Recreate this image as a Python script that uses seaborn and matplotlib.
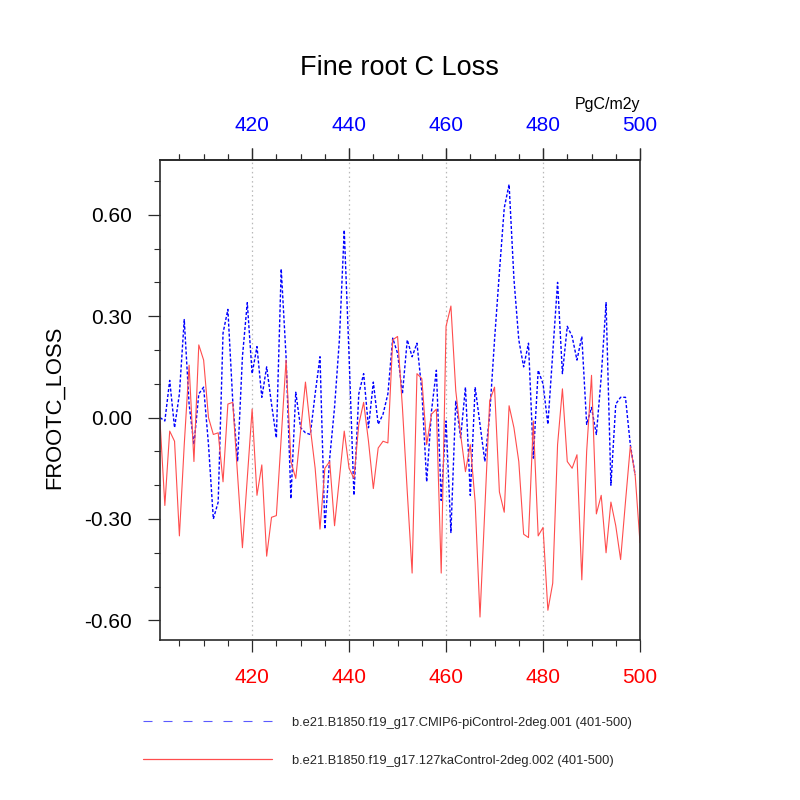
import numpy as np
import pandas as pd
import matplotlib
matplotlib.use("Agg")
import matplotlib.pyplot as plt
import seaborn as sns
from matplotlib.lines import Line2D
from matplotlib.ticker import FixedLocator, MultipleLocator, FormatStrFormatter

# ---------------- data ----------------
years = list(range(401, 501))

# b.e21.B1850.f19_g17.CMIP6-piControl-2deg.001 (values for 401-499)
pi_control = [
    0.00, -0.01, 0.11, -0.03, 0.07, 0.29, 0.04, -0.08, 0.07, 0.09,
    -0.08, -0.30, -0.25, 0.25, 0.32, 0.05, -0.13, 0.18, 0.34, 0.13,
    0.21, 0.06, 0.15, 0.04, -0.06, 0.44, 0.18, -0.24, 0.075, -0.03,
    -0.045, -0.05, 0.07, 0.18, -0.33, -0.12, 0.03, 0.23, 0.555, 0.18,
    -0.23, 0.07, 0.13, -0.03, 0.105, -0.02, 0.01, 0.07, 0.235, 0.19,
    0.07, 0.23, 0.18, 0.22, 0.08, -0.19, 0.02, 0.14, -0.245, -0.01,
    -0.34, 0.05, -0.06, 0.09, -0.23, 0.09, -0.02, -0.13, 0.01, 0.23,
    0.43, 0.62, 0.69, 0.41, 0.23, 0.15, 0.22, -0.12, 0.14, 0.10,
    -0.02, 0.19, 0.40, 0.13, 0.27, 0.24, 0.17, 0.24, -0.02, 0.03,
    -0.05, 0.12, 0.34, -0.20, 0.04, 0.06, 0.06, -0.08, -0.17,
]

# b.e21.B1850.f19_g17.127kaControl-2deg.002 (values for 401-500)
ka127_control = [
    -0.01, -0.26, -0.04, -0.07, -0.35, -0.08, 0.155, -0.13, 0.215, 0.17,
    0.00, -0.05, -0.045, -0.19, 0.04, 0.045, -0.17, -0.385, -0.18, 0.025,
    -0.23, -0.14, -0.41, -0.295, -0.29, -0.06, 0.17, -0.13, -0.18, -0.04,
    0.105, -0.03, -0.15, -0.33, -0.15, -0.13, -0.32, -0.18, -0.04, -0.15,
    -0.18, -0.02, 0.045, -0.07, -0.21, -0.09, -0.07, -0.075, 0.23, 0.24,
    0.03, -0.22, -0.46, 0.13, 0.115, -0.08, 0.01, 0.025, -0.46, 0.27,
    0.33, 0.08, -0.05, -0.16, -0.08, -0.25, -0.59, -0.27, 0.05, 0.09,
    -0.22, -0.28, 0.035, -0.03, -0.13, -0.345, -0.355, -0.01, -0.35, -0.325,
    -0.57, -0.49, -0.08, 0.085, -0.13, -0.15, -0.11, -0.48, -0.10, 0.125,
    -0.285, -0.23, -0.40, -0.25, -0.32, -0.42, -0.25, -0.085, -0.17, -0.37,
]

labels = [
    "b.e21.B1850.f19_g17.CMIP6-piControl-2deg.001 (401-500)",
    "b.e21.B1850.f19_g17.127kaControl-2deg.002 (401-500)",
]
x_major = [420, 440, 460, 480, 500]
y_major = [-0.6, -0.3, 0.0, 0.3, 0.6]

# ---------------- style ----------------
sns.set_theme(style="white")
plt.rcParams['font.family'] = ['Liberation Sans', 'DejaVu Sans']
plt.rcParams['axes.unicode_minus'] = False

BLUE = "#0000ff"
RED = "#ff4d4d"
FRAME = "#2a2a2a"

fig = plt.figure(figsize=(8, 8), dpi=100)
ax = fig.add_axes([0.2, 0.2, 0.6, 0.6])

df_pi = pd.DataFrame({"year": years[:len(pi_control)], "value": pi_control})
df_ka = pd.DataFrame({"year": years, "value": ka127_control})

sns.lineplot(data=df_pi, x="year", y="value", color=BLUE, lw=1.0, ax=ax)
ax.lines[-1].set_dashes([2.2, 1.4])
sns.lineplot(data=df_ka, x="year", y="value", color=RED, lw=0.8, ax=ax)

ax.set_xlim(401, 500)
ax.set_ylim(-0.658, 0.762)

# spines
for s in ax.spines.values():
    s.set_visible(True)
    s.set_color(FRAME)
    s.set_linewidth(1.2)

# x ticks (bottom, red labels)
ax.set_xticks(x_major)
ax.xaxis.set_minor_locator(FixedLocator(list(range(405, 500, 5))))
ax.tick_params(axis='x', which='both', bottom=True, top=True, labelbottom=True,
               labeltop=False, direction='out', colors=FRAME, labelcolor='red',
               labelsize=15)
ax.tick_params(axis='x', which='major', length=8.6, width=0.9, pad=11.5)
ax.tick_params(axis='x', which='minor', length=4.3, width=0.8)

# top axis (blue labels)
sec = ax.secondary_xaxis('top')
sec.set_xticks(x_major)
sec.xaxis.set_minor_locator(FixedLocator(list(range(405, 500, 5))))
sec.tick_params(axis='x', which='both', direction='out', colors=FRAME,
                labelcolor='blue', labelsize=15)
sec.tick_params(axis='x', which='major', length=8.6, width=0.9, pad=9.3)
sec.tick_params(axis='x', which='minor', length=4.3, width=0.8)
sec.spines['top'].set_color(FRAME)
sec.spines['top'].set_linewidth(1.2)

# y ticks
ax.set_yticks(y_major)
ax.yaxis.set_major_formatter(FormatStrFormatter('%.2f'))
ax.yaxis.set_minor_locator(MultipleLocator(0.1))
ax.tick_params(axis='y', which='both', left=True, right=False, direction='out',
               colors=FRAME, labelcolor='black', labelsize=15)
ax.tick_params(axis='y', which='major', length=8.6, width=0.9, pad=11.5)
ax.tick_params(axis='y', which='minor', length=4.3, width=0.8)

# grid
ax.grid(False)
ax.xaxis.grid(True, which='major', linestyle=(0, (1.2, 2.5)), color='#b8b8b8', lw=0.9)

ax.set_xlabel("")
ax.set_ylabel("FROOTC_LOSS", fontsize=15.8, color='black')
ax.yaxis.set_label_coords(-0.198, 0.485)

fig.text(0.499, 1 - 68 / 800, "Fine root C Loss", ha='center', va='center',
         fontsize=19.5, color='black')
fig.text(0.8, 1 - 104 / 800, "PgC/m2y", ha='right', va='center',
         fontsize=11.5, color='black')

h1 = Line2D([], [], color="#5a5aff", lw=0.8, linestyle=(0, (8.1, 9.9)))
h2 = Line2D([], [], color=RED, lw=0.9)
fig.legend(handles=[h1, h2], labels=labels, loc='upper left',
           bbox_to_anchor=(143 / 800, 1 - 716.5 / 800), frameon=False,
           fontsize=9.3, handlelength=10, handletextpad=1.5,
           labelspacing=2.02, borderpad=0, borderaxespad=0)

fig.savefig("out.png", dpi=100)
